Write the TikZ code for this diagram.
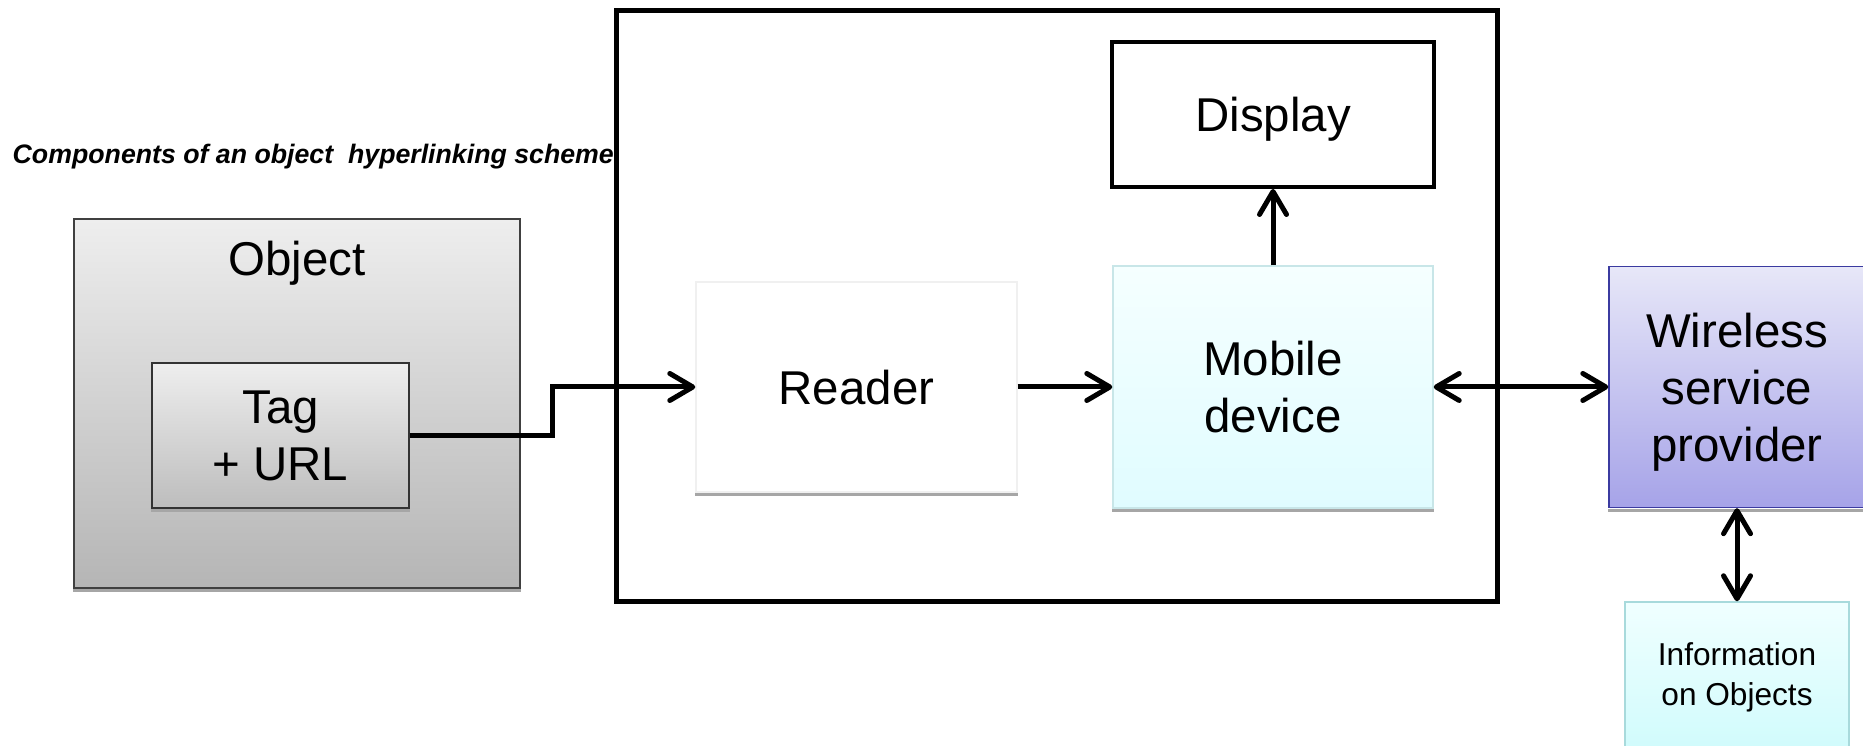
\documentclass[tikz,border=0pt]{standalone}
\usepackage{fontspec}
\setmainfont{Liberation Sans}
\usetikzlibrary{calc,arrows.meta}

\definecolor{objtop}{HTML}{EEEEEE}
\definecolor{objbot}{HTML}{B5B5B5}
\definecolor{tagbot}{HTML}{BDBDBD}
\definecolor{mobtop}{HTML}{F5FFFF}
\definecolor{mobbot}{HTML}{E0FCFF}
\definecolor{mobline}{HTML}{C8E6E8}
\definecolor{wsptop}{HTML}{E7E7F8}
\definecolor{wspbot}{HTML}{A6A3E8}
\definecolor{wspline}{HTML}{3B3BA0}
\definecolor{infotop}{HTML}{F0FFFF}
\definecolor{infobot}{HTML}{D0FBFC}
\definecolor{infoline}{HTML}{A8DADC}

\begin{document}
\begin{tikzpicture}[
    big/.style={font=\fontsize{13.5}{16.2}\selectfont, align=center, text depth=0pt},
    box/.style={shape=rectangle, draw, inner sep=0pt},
    link/.style={line width=0.05cm, -{Straight Barb[length=2.3mm, width=2.7mm, round]}},
    both/.style={line width=0.05cm, {Straight Barb[length=2.3mm, width=2.7mm, round]}-{Straight Barb[length=2.3mm, width=2.7mm, round]}},
    base/.style={draw=gray!70, line width=0.03cm}
]
    \useasboundingbox (0,0) rectangle (18.63,7.46);
    \node[anchor=base west, inner sep=0pt, font=\bfseries\itshape\fontsize{7.6}{9}\selectfont] (title) at (0.12, 5.82) {Components of an object\ \ hyperlinking scheme};
    \node[box, draw=black!75, top color=objtop, bottom color=objbot, minimum width=4.46cm, minimum height=3.69cm] (object) at (2.97, 3.425) {};
    \node[big] (objectname) at ($(object.north)-(0,0.4)$) {Object};
    \node[box, big, draw=black!80, top color=objtop, bottom color=tagbot, minimum width=2.57cm, minimum height=1.45cm] (tag) at (2.805, 3.105) {Tag\\+ URL};
    \node[box, line width=0.05cm, minimum width=8.805cm, minimum height=5.91cm] (handset) at (10.57, 4.395) {};
    \node[box, big, draw=black!6, fill=white, minimum width=3.21cm, minimum height=2.1cm] (reader) at (8.565, 3.59) {Reader};
    \node[box, big, line width=0.04cm, minimum width=3.22cm, minimum height=1.45cm] (display) at (12.73, 6.315) {Display};
    \node[box, big, draw=mobline, top color=mobtop, bottom color=mobbot, minimum width=3.2cm, minimum height=2.42cm] (mobile) at (12.73, 3.59) {Mobile\\device};
    \node[box, big, draw=wspline, top color=wsptop, bottom color=wspbot, minimum width=2.56cm, minimum height=2.41cm] (wireless) at (17.37, 3.59) {Wireless\\service\\provider};
    \node[box, align=center, font=\fontsize{9}{11.4}\selectfont, draw=infoline, top color=infotop, bottom color=infobot, minimum width=2.24cm, minimum height=1.5cm] (info) at (17.37, 0.69) {Information\\on Objects};
    \foreach \n in {object, tag, reader, mobile, wireless}
        \draw[base] ([yshift=-0.02cm]\n.south west) -- ([yshift=-0.02cm]\n.south east);
    \draw[link] (tag.east) -- ++(1.43,0) |- (reader.west);
    \draw[link] (reader) -- (mobile);
    \draw[link] (mobile) -- (display);
    \draw[both] (mobile) -- (wireless);
    \draw[both] (wireless) -- (info);
\end{tikzpicture}
\end{document}
